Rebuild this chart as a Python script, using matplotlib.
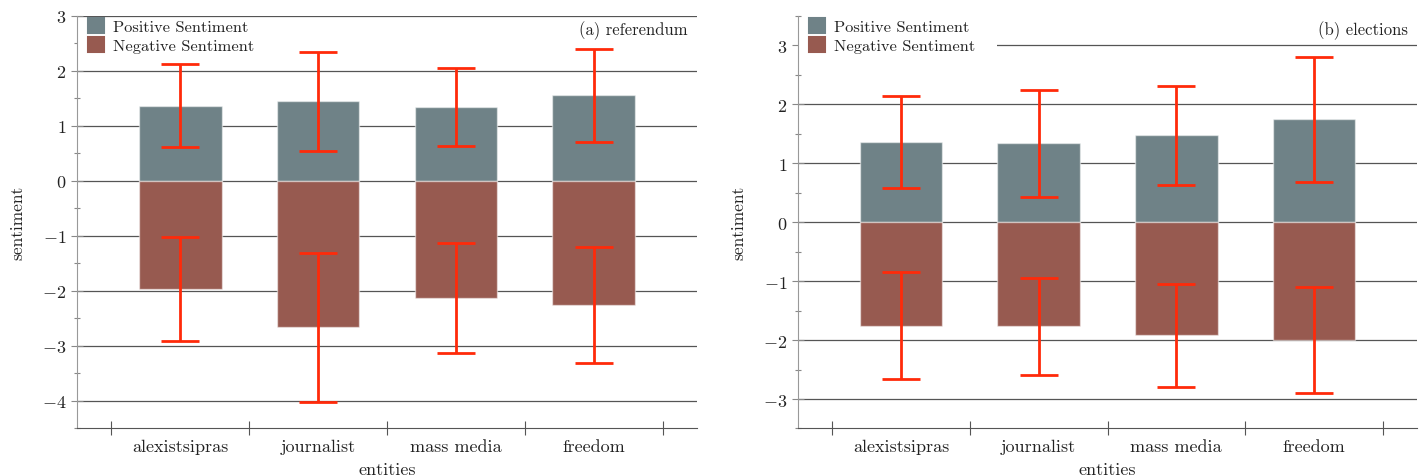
import matplotlib
matplotlib.use("Agg")
import matplotlib.pyplot as plt
from matplotlib.patches import Patch, Rectangle
import numpy as np

plt.rcParams['font.family'] = ['cmr10', 'DejaVu Serif']
plt.rcParams['mathtext.fontset'] = 'cm'
plt.rcParams['axes.formatter.use_mathtext'] = True
plt.rcParams['axes.unicode_minus'] = True

categories = ["alexistsipras", "journalist", "mass media", "freedom"]

# (a) referendum
ref_pos = [1.37, 1.45, 1.345, 1.555]
ref_pos_err = [0.75, 0.90, 0.705, 0.845]
ref_neg = [-1.96, -2.66, -2.13, -2.255]
ref_neg_err = [0.945, 1.35, 1.00, 1.055]

# (b) elections
ele_pos = [1.36, 1.34, 1.48, 1.745]
ele_pos_err = [0.78, 0.91, 0.84, 1.06]
ele_neg = [-1.755, -1.765, -1.92, -2.00]
ele_neg_err = [0.905, 0.82, 0.875, 0.90]

POS_C = "#6f8287"
NEG_C = "#975a50"
ERR_C = "#ff2a0a"
GRID_C = "#555555"

fig = plt.figure(figsize=(14.23, 4.77), dpi=100)
axA = fig.add_axes([0.0541, 0.0996, 0.4357, 0.8648])
axB = fig.add_axes([0.5608, 0.0996, 0.4350, 0.8648])


def draw(ax, pos, pos_err, neg, neg_err, ylim, yticks, title):
    x = np.arange(len(categories))
    ax.set_axisbelow(True)
    ax.yaxis.grid(True, color=GRID_C, linewidth=0.9)
    # white area of the legend box hiding the grid behind it
    ax.add_patch(Rectangle((0.0, 0.903), 0.3215, 0.093, transform=ax.transAxes,
                           facecolor='white', edgecolor='none', zorder=1))
    ax.bar(x, pos, width=0.6, color=POS_C, edgecolor=(1, 1, 1, 0.5),
           linewidth=1, zorder=2)
    ax.bar(x, neg, width=0.6, color=NEG_C, edgecolor=(1, 1, 1, 0.5),
           linewidth=1, zorder=2)
    ax.errorbar(x, pos, yerr=pos_err, fmt='none', ecolor=ERR_C,
                elinewidth=2, capsize=13.5, capthick=2, zorder=3)
    ax.errorbar(x, neg, yerr=neg_err, fmt='none', ecolor=ERR_C,
                elinewidth=2, capsize=13.5, capthick=2, zorder=3)
    ax.set_xlim(-0.75, 3.75)
    ax.set_ylim(*ylim)
    ax.set_yticks(yticks)
    ax.set_yticks(np.arange(ylim[0], ylim[1] + 0.01, 0.5), minor=True)
    ax.set_xticks(np.arange(-0.5, len(categories), 1.0))
    ax.set_xticklabels([])
    ax.set_xticks(x, minor=True)
    ax.set_xticklabels(categories, minor=True)
    ax.tick_params(axis='x', which='major', direction='inout', length=10,
                   width=0.8, color='#555555')
    ax.tick_params(axis='x', which='minor', length=0, labelsize=13, pad=7,
                   labelcolor='#222222')
    ax.tick_params(axis='y', which='major', direction='inout', length=8,
                   width=0.8, color='#888888', labelsize=13, labelcolor='#222222')
    ax.tick_params(axis='y', which='minor', direction='inout', length=4,
                   width=0.8, color='#888888')
    for s in ['top', 'right']:
        ax.spines[s].set_visible(False)
    ax.spines['left'].set_color('#999999')
    ax.spines['bottom'].set_color('#555555')
    ax.set_xlabel("entities", fontsize=13, color='#222222', labelpad=6)
    ax.set_ylabel("sentiment", fontsize=12.5, color='#222222', labelpad=12)
    ax.text(0.985, 0.99, title, transform=ax.transAxes, ha='right', va='top',
            fontsize=12, color='#222222')
    handles = [Patch(facecolor=POS_C, edgecolor=POS_C, linewidth=1.5,
                     joinstyle='round', label="Positive Sentiment"),
               Patch(facecolor=NEG_C, edgecolor=NEG_C, linewidth=1.5,
                     joinstyle='round', label="Negative Sentiment")]
    leg = ax.legend(handles=handles, loc='upper left',
                    frameon=False, fontsize=11.8, handlelength=0.95,
                    handleheight=0.95, handletextpad=0.55, labelspacing=0.2,
                    borderpad=0.1, borderaxespad=0.05)
    leg.set_bbox_to_anchor((0.014, 1.0), transform=ax.transAxes)
    leg.set_zorder(4)
    for t in leg.get_texts():
        t.set_color('#222222')


draw(axA, ref_pos, ref_pos_err, ref_neg, ref_neg_err, (-4.5, 3.0),
     [-4, -3, -2, -1, 0, 1, 2, 3], "(a) referendum")
draw(axB, ele_pos, ele_pos_err, ele_neg, ele_neg_err, (-3.5, 3.5),
     [-3, -2, -1, 0, 1, 2, 3], "(b) elections")

fig.savefig("out.png", dpi=100)
